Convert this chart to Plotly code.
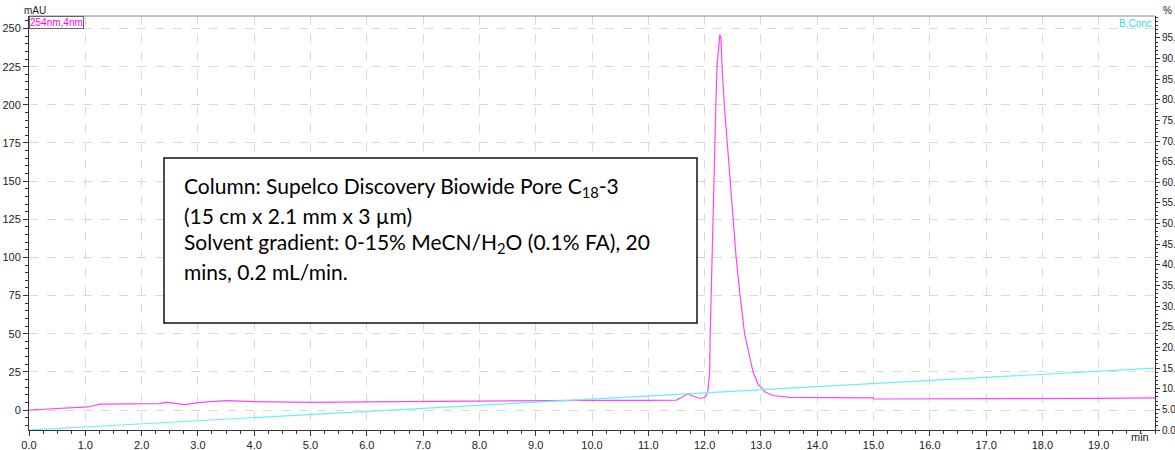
import plotly.graph_objects as go

# ---- data ----
time_254 = [0, 0.5, 0.95, 1.05, 1.26, 1.6, 2.0, 2.3, 2.44, 2.6, 2.77, 3.04, 3.5, 4.0, 4.6,
            5.0, 6.0, 7.0, 8.0, 9.0, 10.0, 11.0, 11.5, 11.6, 11.7, 11.8, 11.91, 12.0,
            12.03, 12.06, 12.09, 12.10, 12.13, 12.15, 12.16, 12.18, 12.20, 12.22, 12.25,
            12.27, 12.29, 12.31, 12.35, 12.40, 12.45, 12.50, 12.56, 12.63, 12.71, 12.86,
            12.95, 13.07, 13.21, 13.51, 14.0, 14.99, 15.01, 16.0, 17.0, 18.0, 19.0, 20.0]
mau_254 = [0, 1.0, 1.8, 2.0, 3.9, 4.0, 3.9, 4.2, 5.0, 4.5, 3.5, 5.0, 6.1, 5.5, 5.0,
           5.0, 5.3, 5.6, 5.9, 6.1, 6.3, 6.3, 6.5, 8.5, 10.5, 9.0, 7.7, 8.2,
           9.5, 13, 25, 50, 100, 125, 150, 175, 200, 225, 240,
           246, 244, 225, 200, 175, 150, 127, 100, 75, 50, 25,
           17, 12, 9.5, 8.3, 8.1, 8.0, 7.2, 7.2, 7.2, 7.3, 7.6, 7.9]

time_bconc = [0, 20]
pct_bconc = [0, 15]

x_ticks = list(range(0, 20))
x_tick_text = [f"{v:.1f}" for v in x_ticks]
y_ticks = [0, 25, 50, 75, 100, 125, 150, 175, 200, 225, 250]
y2_ticks = [i * 5 for i in range(0, 20)]
# right-axis labels as they are visible at the window edge
y2_tick_text = ["0.0", "5.0"] + [f"{v}." for v in y2_ticks[2:]]

box_lines = [
    "Column: Supelco Discovery Biowide Pore C<sub>18</sub>-3",
    "(15 cm x 2.1 mm x 3 µm)",
    "Solvent gradient: 0-15% MeCN/H<sub>2</sub>O (0.1% FA), 20",
    "mins, 0.2 mL/min.",
]

W, H = 1175, 450
L, R, T, B = 29, 20, 16, 20
PW, PH = W - L - R, H - T - B

def px(x):
    return (x - L) / PW

def py(y):
    return 1 - (y - T) / PH

fig = go.Figure()
fig.add_trace(go.Scatter(x=time_254, y=mau_254, mode="lines",
                         line=dict(color="#ff44ff", width=1.2), yaxis="y", showlegend=False))
fig.add_trace(go.Scatter(x=time_bconc, y=pct_bconc, mode="lines",
                         line=dict(color="#66f2f2", width=1.2), yaxis="y2", showlegend=False))

tickfont = dict(family="Liberation Sans, Arial, sans-serif", size=11, color="#222")
tickfont_r = dict(family="Liberation Sans, Arial, sans-serif", size=10, color="#222")

fig.update_layout(
    width=W, height=H,
    margin=dict(l=L, r=R, t=T, b=B, autoexpand=False),
    paper_bgcolor="white", plot_bgcolor="white",
    xaxis=dict(range=[0, 20], tickvals=x_ticks, ticktext=x_tick_text, automargin=False,
               ticks="outside", ticklen=5, tickcolor="#333",
               minor=dict(dtick=0.25, ticks="outside", ticklen=3, tickcolor="#333", showgrid=False),
               showgrid=True, gridcolor="#d9d9d9", griddash="dash", gridwidth=1,
               showline=True, linecolor="#333", linewidth=1, zeroline=False,
               tickfont=tickfont),
    yaxis=dict(range=[-13.1, 258.2], tickvals=y_ticks, automargin=False,
               ticks="outside", ticklen=5, tickcolor="#333",
               minor=dict(dtick=5, ticks="outside", ticklen=3, tickcolor="#333", showgrid=False),
               showgrid=True, gridcolor="#d9d9d9", griddash="dash", gridwidth=1,
               showline=True, linecolor="#333", linewidth=1, zeroline=False,
               tickfont=tickfont),
    yaxis2=dict(range=[0, 100.3], overlaying="y", side="right", automargin=False,
                tickvals=y2_ticks, ticktext=y2_tick_text,
                ticks="outside", ticklen=4, tickcolor="#333",
                minor=dict(dtick=1, ticks="outside", ticklen=2, tickcolor="#333", showgrid=False),
                showgrid=False, showline=True, linecolor="#333", linewidth=1, zeroline=False,
                tickfont=tickfont_r),
)

# top border
fig.add_shape(type="line", xref="paper", yref="paper", x0=0, x1=1, y0=1, y1=1,
              line=dict(color="#888", width=1))

# text box
fig.add_shape(type="rect", xref="paper", yref="paper",
              x0=px(164), x1=px(697), y0=py(323), y1=py(158),
              line=dict(color="#111", width=1.5), fillcolor="white", layer="above")
line_y = [187, 215, 243, 271]
for txt, yy in zip(box_lines, line_y):
    fig.add_annotation(xref="paper", yref="paper", x=px(182), y=py(yy),
                       xanchor="left", yanchor="middle", text=txt, showarrow=False,
                       font=dict(family="Lato, Carlito, Calibri, sans-serif", size=21, color="#000"))

small = dict(family="Liberation Sans, Arial, sans-serif", size=10)
fig.add_annotation(xref="paper", yref="paper", x=px(22), y=py(11), xanchor="left", yanchor="middle",
                   text="mAU", showarrow=False, font=dict(**small, color="#222"))
fig.add_annotation(xref="paper", yref="paper", x=px(1161), y=py(11), xanchor="left", yanchor="middle",
                   text="%", showarrow=False, font=dict(**small, color="#222"))
fig.add_annotation(xref="paper", yref="paper", x=px(29), y=py(16), xanchor="left", yanchor="top",
                   text="254nm,4nm", showarrow=False, font=dict(**small, color="#ff00ff"),
                   bordercolor="#666", borderwidth=1, borderpad=0, bgcolor="white")
fig.add_annotation(xref="paper", yref="paper", x=px(1154), y=py(16), xanchor="right", yanchor="top",
                   text="B.Conc", showarrow=False, font=dict(**small, color="#33dddd"))
fig.add_annotation(xref="paper", yref="paper", x=px(1140), y=py(437), xanchor="center", yanchor="middle",
                   text="min", showarrow=False, font=dict(**tickfont))

fig.write_html("out.html")
